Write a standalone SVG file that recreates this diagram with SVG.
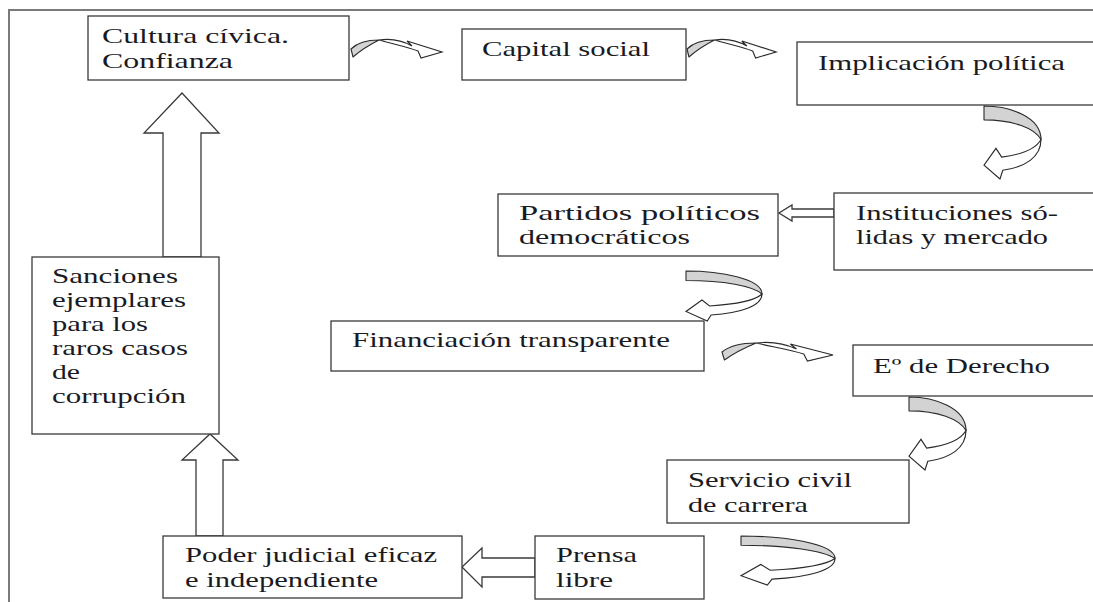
<svg xmlns="http://www.w3.org/2000/svg" width="1093" height="602" viewBox="0 0 1093 602">
<style>
.box{fill:#fff;stroke:#3a3a3a;stroke-width:1.3}
.blk{fill:#fff;stroke:#3a3a3a;stroke-width:1.3;stroke-linejoin:miter}
.sh{fill:#d3d3d3;stroke:#2a2a2a;stroke-width:1.1;vector-effect:non-scaling-stroke;stroke-linejoin:round}
.wh{fill:#fff;stroke:#2a2a2a;stroke-width:1.1;vector-effect:non-scaling-stroke;stroke-linejoin:miter}
</style>
<defs>
<g id="hop">
<path class="sh" d="M0,9 C6,3 16,0 28,0 C20,4 10,10 2,17 Z"/>
<path class="wh" d="M28,0 C42,-2 54,2 61,6 L56,1 L91,12 L70,18 L67,11 C57,7 42,4 28,0 Z"/>
</g>
<g id="uturn">
<path class="sh" d="M0,0 C45,0 100,15 100,46 C88,30 50,19 0,19 Z"/>
<path class="wh" d="M100,46 C100,70 72,84 33,88 L28,100 L0,81 L21,58 L31,70 C62,67 90,60 100,46 Z"/>
</g>
</defs>
<rect width="1093" height="602" fill="#fff"/>
<g id="frame" fill="none" stroke="#7a7a7a" stroke-width="2">
<path d="M9,602 V10 H1093"/>
</g>
<g id="connectors">
<use href="#hop" transform="translate(351,40)"/>
<use href="#hop" transform="translate(687,40) scale(0.98,1)"/>
<use href="#hop" transform="translate(722,343) scale(1.22,1)"/>
<use href="#uturn" transform="translate(984,106) scale(0.57,0.73)"/>
<use href="#uturn" transform="translate(686,271) scale(0.76,0.5)"/>
<use href="#uturn" transform="translate(909,397) scale(0.57,0.73)"/>
<use href="#uturn" transform="translate(741,536) scale(0.94,0.49)"/>
<polygon class="blk" points="163,257 163,133 144,133 182,93 219,133 201,133 201,257"/>
<polygon class="blk" points="196,536 196,460 182,460 210,434 238,460 223,460 223,536"/>
<polygon class="blk" points="535,558 482,558 482,548 462,567 482,587 482,577 535,577"/>
<polygon class="blk" points="834,209 792,209 792,205 779,213 792,221 792,217 834,217"/>
</g>
<g font-family="Liberation Serif" font-size="22" fill="#1a1a22">
<g id="cultura">
<rect class="box" x="88" y="16" width="261" height="64"/>
<text x="102" y="43" textLength="187" lengthAdjust="spacingAndGlyphs">Cultura cívica.</text>
<text x="102" y="68" textLength="131" lengthAdjust="spacingAndGlyphs">Confianza</text>
</g>
<g id="capital">
<rect class="box" x="462" y="29" width="224" height="51"/>
<text x="482" y="56" textLength="168" lengthAdjust="spacingAndGlyphs">Capital social</text>
</g>
<g id="implicacion">
<rect class="box" x="797" y="42" width="310" height="63"/>
<text x="818" y="70" textLength="247" lengthAdjust="spacingAndGlyphs">Implicación política</text>
</g>
<g id="instituciones">
<rect class="box" x="834" y="193" width="270" height="77"/>
<text x="856" y="220" textLength="202" lengthAdjust="spacingAndGlyphs">Instituciones só-</text>
<text x="856" y="244" textLength="192" lengthAdjust="spacingAndGlyphs">lidas y mercado</text>
</g>
<g id="partidos">
<rect class="box" x="498" y="194" width="280" height="62"/>
<text x="519" y="220" textLength="241" lengthAdjust="spacingAndGlyphs">Partidos políticos</text>
<text x="519" y="244" textLength="171" lengthAdjust="spacingAndGlyphs">democráticos</text>
</g>
<g id="financiacion">
<rect class="box" x="331" y="321" width="373" height="50"/>
<text x="352" y="347" textLength="318" lengthAdjust="spacingAndGlyphs">Financiación transparente</text>
</g>
<g id="derecho">
<rect class="box" x="853" y="345" width="250" height="51"/>
<text x="873" y="373" textLength="177" lengthAdjust="spacingAndGlyphs">Eº de Derecho</text>
</g>
<g id="servicio">
<rect class="box" x="667" y="460" width="242" height="63"/>
<text x="688" y="487" textLength="164" lengthAdjust="spacingAndGlyphs">Servicio civil</text>
<text x="688" y="512" textLength="120" lengthAdjust="spacingAndGlyphs">de carrera</text>
</g>
<g id="prensa">
<rect class="box" x="535" y="536" width="169" height="63"/>
<text x="556" y="562" textLength="81" lengthAdjust="spacingAndGlyphs">Prensa</text>
<text x="556" y="587" textLength="57" lengthAdjust="spacingAndGlyphs">libre</text>
</g>
<g id="poder">
<rect class="box" x="163" y="536" width="299" height="62"/>
<text x="185" y="562" textLength="252" lengthAdjust="spacingAndGlyphs">Poder judicial eficaz</text>
<text x="185" y="587" textLength="193" lengthAdjust="spacingAndGlyphs">e independiente</text>
</g>
<g id="sanciones">
<rect class="box" x="32" y="257" width="187" height="177"/>
<text x="52" y="283" textLength="126" lengthAdjust="spacingAndGlyphs">Sanciones</text>
<text x="52" y="307" textLength="134" lengthAdjust="spacingAndGlyphs">ejemplares</text>
<text x="52" y="331" textLength="96" lengthAdjust="spacingAndGlyphs">para los</text>
<text x="52" y="355" textLength="136" lengthAdjust="spacingAndGlyphs">raros casos</text>
<text x="52" y="379" textLength="28" lengthAdjust="spacingAndGlyphs">de</text>
<text x="52" y="403" textLength="134" lengthAdjust="spacingAndGlyphs">corrupción</text>
</g>
</g>
</svg>
